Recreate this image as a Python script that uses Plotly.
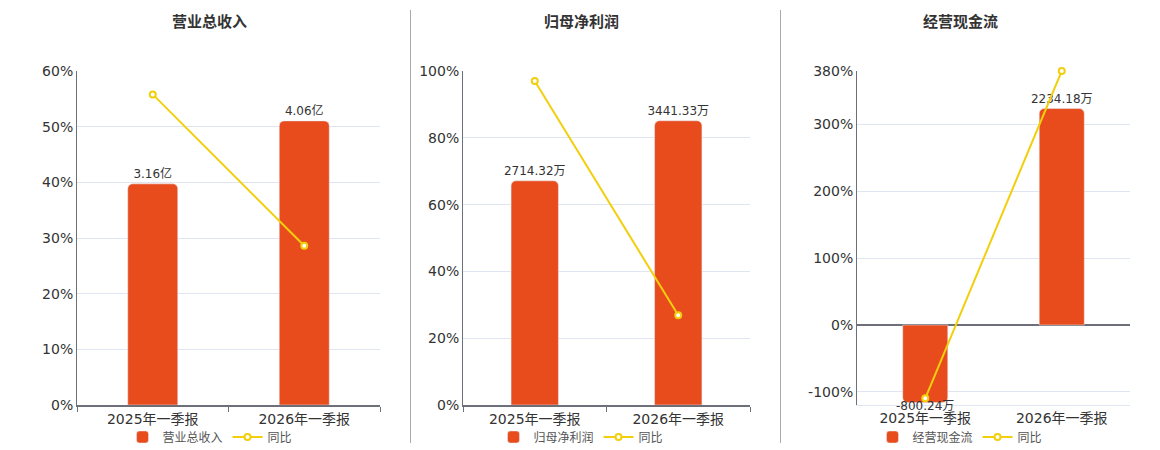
import plotly.graph_objects as go

# data
periods = ["2025年一季报", "2026年一季报"]

titles = ["营业总收入", "归母净利润", "经营现金流"]

revenue = [3.16, 4.06]
revenue_text = ["3.16亿", "4.06亿"]
revenue_yoy = [55.8, 28.6]

profit = [2714.32, 3441.33]
profit_text = ["2714.32万", "3441.33万"]
profit_yoy = [97.0, 26.9]

cashflow = [-800.24, 2234.18]
cashflow_text = ["-800.24万", "2234.18万"]
cashflow_yoy = [-110.0, 380.0]

BAR_COLOR = "#e84c1d"
LINE_COLOR = "#f2cf0d"
AXIS_COLOR = "#6e7079"
GRID_COLOR = "#e0e6f1"
TEXT_COLOR = "#333333"
FONT = "DejaVu Sans, Noto Sans CJK SC, sans-serif"

W, H = 1160, 450
OFF = 8  # the page body margin shifts the figure by this much


def px_x(v):
    return (v - OFF) / W


def px_y(v):
    return 1 - (v - OFF) / H


panels = [
    dict(name=titles[0], bars=revenue, text=revenue_text, yoy=revenue_yoy,
         x0=77, x1=380, title_x=210, pct_range=[0, 60], pct_ticks=[0, 10, 20, 30, 40, 50, 60],
         bar_range=[0, 4.773]),
    dict(name=titles[1], bars=profit, text=profit_text, yoy=profit_yoy,
         x0=463, x1=750, title_x=581, pct_range=[0, 100], pct_ticks=[0, 20, 40, 60, 80, 100],
         bar_range=[0, 4044]),
    dict(name=titles[2], bars=cashflow, text=cashflow_text, yoy=cashflow_yoy,
         x0=857, x1=1130, title_x=960, pct_range=[-120, 380], pct_ticks=[-100, 0, 100, 200, 300, 380],
         bar_range=[-825.6, 2621.8]),
]

fig = go.Figure()
layout = dict(
    width=W, height=H,
    margin=dict(l=0, r=0, t=0, b=0, autoexpand=False),
    paper_bgcolor="white", plot_bgcolor="white",
    font=dict(family=FONT, color=TEXT_COLOR, size=12),
    showlegend=True,
)
annotations = []
shapes = []

y_dom = [px_y(405), px_y(71)]

for i, p in enumerate(panels):
    n = i + 1
    xa = "x" if n == 1 else f"x{n}"
    ya_bar = "y" if n == 1 else f"y{n}"
    ya_pct = f"y{n + 3}"
    legend_id = "legend" if n == 1 else f"legend{n}"
    negative = min(p["pct_range"]) < 0

    # labels of negative bars sit right on the bar end, done as annotations below
    bar_text = [t if v >= 0 else "" for t, v in zip(p["text"], p["bars"])]
    fig.add_trace(go.Bar(
        x=periods, y=p["bars"], name=p["name"],
        xaxis=xa, yaxis=ya_bar, legend=legend_id,
        marker=dict(color=BAR_COLOR, cornerradius=5),
        text=bar_text, textposition="outside", cliponaxis=False,
        constraintext="none",
        textfont=dict(size=12, color=TEXT_COLOR),
        width=0.33,
    ))
    for cat, v, t in zip(periods, p["bars"], p["text"]):
        if v < 0:
            annotations.append(dict(
                text=t, x=cat, y=v, xref=xa, yref=ya_bar, showarrow=False,
                xanchor="center", yanchor="top", yshift=6,
                font=dict(size=12, color=TEXT_COLOR),
            ))
    fig.add_trace(go.Scatter(
        x=periods, y=p["yoy"], name="同比",
        xaxis=xa, yaxis=ya_pct, legend=legend_id,
        mode="lines+markers", cliponaxis=False,
        line=dict(color=LINE_COLOR, width=2),
        marker=dict(symbol="circle", size=6, color="white",
                    line=dict(color=LINE_COLOR, width=2)),
    ))

    xkey = "xaxis" if n == 1 else f"xaxis{n}"
    layout[xkey] = dict(
        domain=[px_x(p["x0"]), px_x(p["x1"])], anchor=ya_bar, type="category",
        showline=True, linecolor=GRID_COLOR if negative else AXIS_COLOR, linewidth=1 if negative else 2,
        ticks="" if negative else "outside", tickson="boundaries", ticklen=5, tickcolor=AXIS_COLOR,
        tickfont=dict(size=14, color=TEXT_COLOR), showgrid=False,
    )
    ykey_bar = "yaxis" if n == 1 else f"yaxis{n}"
    layout[ykey_bar] = dict(
        domain=y_dom, anchor=xa, range=p["bar_range"],
        showgrid=False, showticklabels=False, zeroline=False, showline=False, ticks="",
    )
    layout[f"yaxis{n + 3}"] = dict(
        domain=y_dom, anchor=xa, overlaying=ya_bar, side="left",
        range=p["pct_range"], tickmode="array", tickvals=p["pct_ticks"],
        ticktext=[f"{v}%" for v in p["pct_ticks"]],
        showgrid=True, gridcolor=GRID_COLOR, gridwidth=1,
        showline=True, linecolor=AXIS_COLOR, linewidth=1,
        zeroline=negative, zerolinecolor=AXIS_COLOR, zerolinewidth=2,
        ticks="", tickfont=dict(size=14, color=TEXT_COLOR),
    )
    layout[legend_id] = dict(
        orientation="h", x=px_x(p["title_x"]), xanchor="center",
        y=px_y(437), yanchor="middle",
        font=dict(size=12, color="#555555"), itemwidth=30,
        bgcolor="rgba(0,0,0,0)",
    )
    annotations.append(dict(
        text=f"<b>{p['name']}</b>", x=px_x(p["title_x"]), y=px_y(22),
        xref="paper", yref="paper", showarrow=False,
        font=dict(size=15, color=TEXT_COLOR), xanchor="center", yanchor="middle",
    ))

# divider lines between the panels
for xd in [410.5, 780.5]:
    shapes.append(dict(type="line", xref="paper", yref="paper",
                       x0=px_x(xd), x1=px_x(xd), y0=px_y(10), y1=px_y(443),
                       line=dict(color="#aaaaaa", width=1)))

layout["annotations"] = annotations
layout["shapes"] = shapes
fig.update_layout(**layout)

fig.write_html("out.html")
